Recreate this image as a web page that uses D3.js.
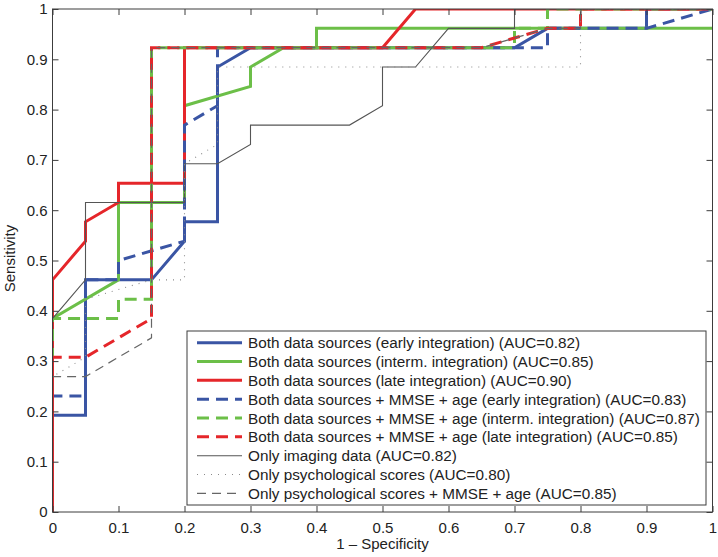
<!DOCTYPE html>
<html>
<head>
<meta charset="utf-8">
<script src="https://cdn.jsdelivr.net/npm/d3@7"></script>
<style>
  html, body { margin: 0; padding: 0; background: #fff; }
  svg { display: block; }
  text { font-family: "Liberation Sans", Arial, Helvetica, sans-serif; fill: #222; }
</style>
</head>
<body>
<svg id="chart" width="718" height="557"></svg>
<script>
// ---- data (x = 1 - specificity, y = sensitivity) ----
const xTicks = [0, 0.1, 0.2, 0.3, 0.4, 0.5, 0.6, 0.7, 0.8, 0.9, 1];
const yTicks = [0, 0.1, 0.2, 0.3, 0.4, 0.5, 0.6, 0.7, 0.8, 0.9, 1];
const xTickLabels = ["0", "0.1", "0.2", "0.3", "0.4", "0.5", "0.6", "0.7", "0.8", "0.9", "1"];
const yTickLabels = ["0", "0.1", "0.2", "0.3", "0.4", "0.5", "0.6", "0.7", "0.8", "0.9", "1"];

const seriesNames = [
  "Both data sources (early integration) (AUC=0.82)",
  "Both data sources (interm. integration) (AUC=0.85)",
  "Both data sources (late integration) (AUC=0.90)",
  "Both data sources + MMSE + age (early integration) (AUC=0.83)",
  "Both data sources + MMSE + age (interm. integration) (AUC=0.87)",
  "Both data sources + MMSE + age (late integration) (AUC=0.85)",
  "Only imaging data (AUC=0.82)",
  "Only psychological scores (AUC=0.80)",
  "Only psychological scores + MMSE + age (AUC=0.85)"
];

const earlyX = [0, 0, 0.05, 0.05, 0.15, 0.2, 0.2, 0.25, 0.25, 0.3, 0.7, 0.75, 0.9, 0.9, 1];
const earlyY = [0, 0.1923, 0.1923, 0.4615, 0.4615, 0.5385, 0.5769, 0.5769, 0.8846, 0.9231, 0.9231, 0.9615, 0.9615, 1, 1];

const intermX = [0, 0, 0.1, 0.1, 0.2, 0.2, 0.3, 0.3, 0.35, 0.4, 0.4, 1];
const intermY = [0, 0.3846, 0.4615, 0.6154, 0.6154, 0.8077, 0.8462, 0.8846, 0.9231, 0.9231, 0.9615, 0.9615];

const lateX = [0, 0, 0.05, 0.05, 0.1, 0.1, 0.2, 0.2, 0.5, 0.55, 1];
const lateY = [0, 0.4615, 0.5385, 0.5769, 0.6154, 0.6538, 0.6538, 0.9231, 0.9231, 1, 1];

const earlyMX = [0, 0, 0.05, 0.05, 0.1, 0.1, 0.2, 0.2, 0.25, 0.25, 0.7, 0.75, 0.75, 0.9, 1];
const earlyMY = [0, 0.2308, 0.2308, 0.4615, 0.4615, 0.5, 0.5385, 0.7692, 0.8077, 0.9231, 0.9231, 0.9231, 0.9615, 0.9615, 1];

const intermMX = [0, 0, 0.1, 0.1, 0.15, 0.15, 0.7, 0.7, 0.75, 0.75, 1];
const intermMY = [0, 0.3846, 0.3846, 0.4231, 0.4231, 0.9231, 0.9231, 0.9615, 0.9615, 1, 1];

const lateMX = [0, 0, 0.05, 0.15, 0.15, 0.65, 0.75, 0.8, 0.8, 1];
const lateMY = [0, 0.3077, 0.3077, 0.3846, 0.9231, 0.9231, 0.9615, 0.9615, 1, 1];

const imagingX = [0, 0, 0.05, 0.05, 0.2, 0.2, 0.25, 0.3, 0.3, 0.45, 0.5, 0.5, 0.55, 0.6, 0.7, 0.7, 1];
const imagingY = [0, 0.3846, 0.4615, 0.6154, 0.6154, 0.6923, 0.6923, 0.7308, 0.7692, 0.7692, 0.8077, 0.8846, 0.8846, 0.9615, 0.9615, 1, 1];

const psychX = [0, 0, 0.05, 0.05, 0.15, 0.2, 0.2, 0.25, 0.25, 0.8, 0.8, 1];
const psychY = [0, 0.2692, 0.3077, 0.4231, 0.4615, 0.4615, 0.6923, 0.7308, 0.8846, 0.8846, 1, 1];

const psychMX = [0, 0, 0.05, 0.15, 0.15, 0.65, 0.75, 0.8, 0.8, 1];
const psychMY = [0, 0.2692, 0.2692, 0.3462, 0.9231, 0.9231, 0.9615, 0.9615, 1, 1];

const seriesX = [earlyX, intermX, lateX, earlyMX, intermMX, lateMX, imagingX, psychX, psychMX];
const seriesY = [earlyY, intermY, lateY, earlyMY, intermMY, lateMY, imagingY, psychY, psychMY];

// ---- styles ----
const BLUE = "#3a55a4", GREEN = "#6cbf48", RED = "#e5262a";
const styles = [
  { color: BLUE,  width: 3, dash: null },
  { color: GREEN, width: 3, dash: null },
  { color: RED,   width: 3, dash: null },
  { color: BLUE,  width: 3, dash: "12,7" },
  { color: GREEN, width: 3, dash: "12,7" },
  { color: RED,   width: 3, dash: "12,7" },
  { color: "#555555", width: 1.1, dash: null },
  { color: "#8a8a8a", width: 1.1, dash: "1,6" },
  { color: "#666666", width: 1.2, dash: "9,6" }
];

// ---- layout ----
const FS = 15;
const LFS = 15.3;
const svg = d3.select("#chart");
const mLeft = 52.5, mRight = 712.5, mTop = 9, mBottom = 512;
const x = d3.scaleLinear().domain([0, 1]).range([mLeft, mRight]);
const y = d3.scaleLinear().domain([0, 1]).range([mBottom, mTop]);

svg.append("defs").append("clipPath").attr("id", "plotclip")
  .append("rect").attr("x", mLeft).attr("y", mTop)
  .attr("width", mRight - mLeft).attr("height", mBottom - mTop);

const axisColor = "#3c3c3c";
const tickLen = 6;

// curves
const line = d3.line().x(d => x(d[0])).y(d => y(d[1]));
const plot = svg.append("g").attr("clip-path", "url(#plotclip)");
seriesX.forEach((xs, i) => {
  const pts = xs.map((v, j) => [v, seriesY[i][j]]);
  const st = styles[i];
  plot.append("path")
    .attr("d", line(pts))
    .attr("fill", "none")
    .attr("stroke", st.color)
    .attr("stroke-width", st.width)
    .attr("stroke-dasharray", st.dash)
    .attr("stroke-linejoin", "miter");
});

// axes (MATLAB box style, ticks inward)
const axB = d3.axisBottom(x).tickValues(xTicks).tickFormat((d, i) => xTickLabels[i]).tickSizeInner(-tickLen).tickSizeOuter(0).tickPadding(10);
const axT = d3.axisTop(x).tickValues(xTicks).tickFormat("").tickSizeInner(-tickLen).tickSizeOuter(0);
const axL = d3.axisLeft(y).tickValues(yTicks).tickFormat((d, i) => yTickLabels[i]).tickSizeInner(-tickLen).tickSizeOuter(0).tickPadding(5);
const axR = d3.axisRight(y).tickValues(yTicks).tickFormat("").tickSizeInner(-tickLen).tickSizeOuter(0);

function style(g) {
  g.select(".domain").remove();
  g.selectAll(".tick line").attr("stroke", axisColor);
  g.selectAll(".tick text").attr("font-size", FS).attr("fill", "#222")
    .attr("font-family", '"Liberation Sans", Arial, Helvetica, sans-serif');
}
svg.append("g").attr("transform", `translate(0,${mBottom})`).call(axB).call(style);
svg.append("g").attr("transform", `translate(0,${mTop})`).call(axT).call(style);
svg.append("g").attr("transform", `translate(${mLeft},0)`).call(axL).call(style);
svg.append("g").attr("transform", `translate(${mRight},0)`).call(axR).call(style);

svg.append("rect").attr("x", mLeft).attr("y", mTop)
  .attr("width", mRight - mLeft).attr("height", mBottom - mTop)
  .attr("fill", "none").attr("stroke", axisColor).attr("stroke-width", 1);

// axis labels
svg.append("text").attr("x", (mLeft + mRight) / 2).attr("y", 549)
  .attr("text-anchor", "middle").attr("font-size", FS).text("1 \u2013 Specificity");
svg.append("text").attr("transform", `translate(15,${(mTop + mBottom) / 2 - 2}) rotate(-90)`)
  .attr("text-anchor", "middle").attr("font-size", FS).text("Sensitivity");

// legend
const lgX = 187, lgY = 331, lgW = 519, lgH = 174;
const lg = svg.append("g");
lg.append("rect").attr("x", lgX).attr("y", lgY).attr("width", lgW).attr("height", lgH)
  .attr("fill", "#fff").attr("stroke", axisColor).attr("stroke-width", 1);
seriesNames.forEach((name, i) => {
  const cy = 342.7 + i * 18.83;
  const st = styles[i];
  lg.append("line").attr("x1", 197).attr("x2", 242).attr("y1", cy).attr("y2", cy)
    .attr("stroke", st.color).attr("stroke-width", st.width)
    .attr("stroke-dasharray", st.dash);
  lg.append("text").attr("x", 248).attr("y", cy).attr("dy", "0.36em")
    .attr("font-size", LFS).text(name);
});
</script>
</body>
</html>
